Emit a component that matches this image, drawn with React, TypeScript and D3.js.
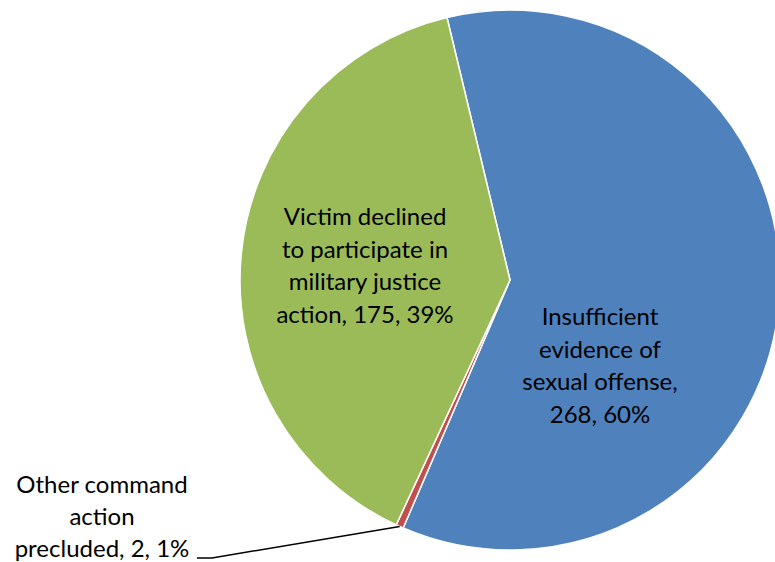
import React, { useRef, useEffect } from 'react';
import * as d3 from 'd3';

const categories = [
  'Insufficient evidence of sexual offense',
  'Other command action precluded',
  'Victim declined to participate in military justice action',
];
const counts = [268, 2, 175];
const percents = ['60%', '1%', '39%'];
const colors = ['#4F81BD', '#C0504D', '#9BBB59'];

const labelLines = [
  ['Insufficient', 'evidence of', 'sexual offense,', '268, 60%'],
  ['Other command', 'action', 'precluded, 2, 1%'],
  ['Victim declined', 'to participate in', 'military justice', 'action, 175, 39%'],
];

const App = () => {
  const svgRef = useRef<SVGSVGElement>(null);

  useEffect(() => {
    const w = 775;
    const h = 562;
    const cx = 510;
    const cy = 280;
    const r = 270;
    const font = 'Lato, "Open Sans", sans-serif';

    const svg = d3.select(svgRef.current).attr('width', w).attr('height', h);
    svg.selectAll('*').remove();

    const startAngle = (-13.5 * Math.PI) / 180;
    const pie = d3
      .pie<number>()
      .sort(null)
      .value((d) => d)
      .startAngle(startAngle)
      .endAngle(startAngle + 2 * Math.PI);
    const arcs = pie(counts);
    const arc = d3.arc<d3.PieArcDatum<number>>().innerRadius(0).outerRadius(r);

    const g = svg.append('g').attr('transform', `translate(${cx},${cy})`);

    g.selectAll('path')
      .data(arcs)
      .join('path')
      .attr('d', arc)
      .attr('fill', (d, i) => colors[i])
      .attr('stroke', '#fff')
      .attr('stroke-width', 1.5)
      .attr('stroke-linejoin', 'round');

    // inside labels
    const inside = [
      { i: 0, x: 90, y: 45 },
      { i: 2, x: -145, y: -55 },
    ];
    inside.forEach(({ i, x, y }) => {
      const t = g
        .append('text')
        .attr('text-anchor', 'middle')
        .attr('font-family', font)
        .attr('font-size', 24)
        .attr('fill', '#000');
      labelLines[i].forEach((line, k) => {
        t.append('tspan').attr('x', x).attr('y', y + k * 32.5).text(line);
      });
    });

    // leader label for the small slice
    const small = arcs[1];
    const mid = (small.startAngle + small.endAngle) / 2;
    const px = Math.sin(mid) * r;
    const py = -Math.cos(mid) * r;
    g.append('path')
      .attr('d', `M${px},${py} L${212 - cx},${558 - cy} L${197 - cx},${558 - cy}`)
      .attr('fill', 'none')
      .attr('stroke', '#000')
      .attr('stroke-width', 1.5);

    const t = svg
      .append('text')
      .attr('text-anchor', 'middle')
      .attr('font-family', font)
      .attr('font-size', 24)
      .attr('fill', '#000');
    labelLines[1].forEach((line, k) => {
      t.append('tspan').attr('x', 102).attr('y', 493 + k * 32).text(line);
    });
  }, []);

  return (
    <div style={{ position: 'absolute', left: 0, top: 0 }}>
      <svg ref={svgRef} style={{ display: 'block' }} aria-label={categories.join(', ') + ' ' + percents.join(', ')}></svg>
    </div>
  );
};

export default App;
